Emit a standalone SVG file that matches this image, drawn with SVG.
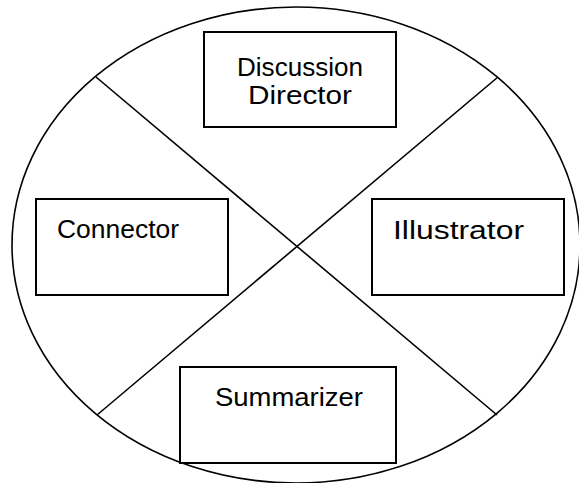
<svg xmlns="http://www.w3.org/2000/svg" width="579" height="483" viewBox="0 0 579 483">
<style>
.bg{fill:#fff}
.ell{fill:none;stroke:#000;stroke-width:1.6}
.conn line{stroke:#000;stroke-width:1.6}
.box{fill:#fff;stroke:#000;stroke-width:2}
.lbl{font-family:"Liberation Sans",Arial,sans-serif;font-size:25px;fill:#000}
</style>
<rect class="bg" x="0" y="0" width="579" height="483"/>
<ellipse class="ell" cx="296" cy="245" rx="284" ry="238"/>
<g id="connectors" class="conn">
<line x1="96" y1="77" x2="497" y2="415"/>
<line x1="498" y1="77" x2="97" y2="415"/>
</g>
<g id="discussion-director">
<rect class="box" x="204" y="32" width="192" height="95"/>
<text class="lbl" x="237" y="76" textLength="126" lengthAdjust="spacingAndGlyphs">Discussion</text>
<text class="lbl" x="248" y="104" textLength="104" lengthAdjust="spacingAndGlyphs">Director</text>
</g>
<g id="connector">
<rect class="box" x="36" y="199" width="192" height="96"/>
<text class="lbl" x="57" y="238" textLength="122" lengthAdjust="spacingAndGlyphs">Connector</text>
</g>
<g id="illustrator">
<rect class="box" x="372" y="199" width="192" height="96"/>
<text class="lbl" x="393" y="239" textLength="131" lengthAdjust="spacingAndGlyphs">Illustrator</text>
</g>
<g id="summarizer">
<rect class="box" x="180" y="367" width="216" height="96"/>
<text class="lbl" x="215" y="406" textLength="148" lengthAdjust="spacingAndGlyphs">Summarizer</text>
</g>
</svg>
